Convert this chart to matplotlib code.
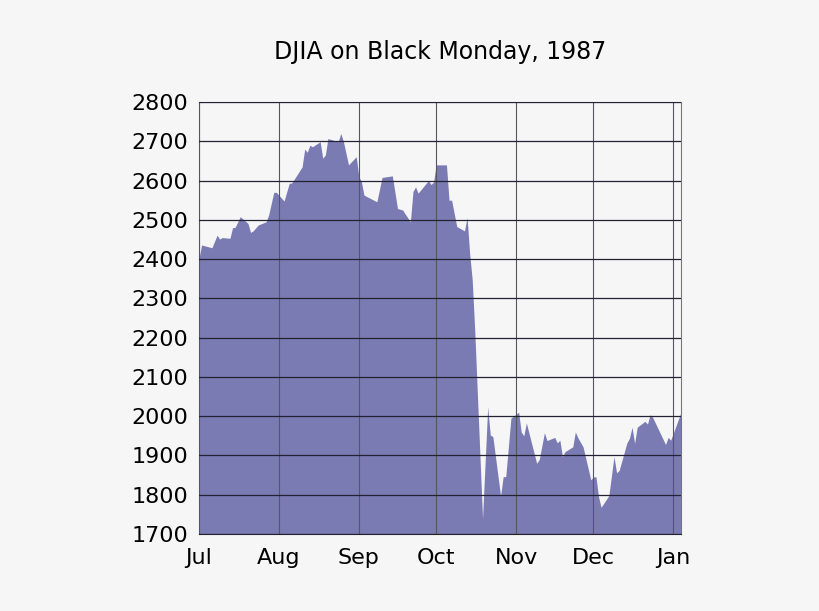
import matplotlib
matplotlib.use('Agg')
import matplotlib.pyplot as plt
import pandas as pd

# DJIA closes, Jul 1987 - Jan 1988
dates = ['1987-07-01', '1987-07-02', '1987-07-06', '1987-07-08', '1987-07-09', '1987-07-10',
         '1987-07-13', '1987-07-14', '1987-07-15', '1987-07-17', '1987-07-20', '1987-07-21',
         '1987-07-22', '1987-07-24', '1987-07-27', '1987-07-28', '1987-07-30', '1987-07-31',
         '1987-08-03', '1987-08-05', '1987-08-06', '1987-08-10', '1987-08-11', '1987-08-12',
         '1987-08-13', '1987-08-14', '1987-08-17', '1987-08-18', '1987-08-19', '1987-08-20',
         '1987-08-21', '1987-08-24', '1987-08-25', '1987-08-26', '1987-08-28', '1987-08-31',
         '1987-09-01', '1987-09-02', '1987-09-03', '1987-09-08', '1987-09-10', '1987-09-14',
         '1987-09-16', '1987-09-18', '1987-09-21', '1987-09-22', '1987-09-23', '1987-09-24',
         '1987-09-28', '1987-09-29', '1987-09-30', '1987-10-01', '1987-10-05', '1987-10-06',
         '1987-10-07', '1987-10-09', '1987-10-12', '1987-10-13', '1987-10-14', '1987-10-15',
         '1987-10-16', '1987-10-19', '1987-10-21', '1987-10-22', '1987-10-23', '1987-10-26',
         '1987-10-27', '1987-10-28', '1987-10-30', '1987-11-02', '1987-11-03', '1987-11-04',
         '1987-11-05', '1987-11-09', '1987-11-10', '1987-11-12', '1987-11-13', '1987-11-16',
         '1987-11-17', '1987-11-18', '1987-11-19', '1987-11-20', '1987-11-23', '1987-11-24',
         '1987-11-25', '1987-11-27', '1987-11-30', '1987-12-01', '1987-12-02', '1987-12-03',
         '1987-12-04', '1987-12-07', '1987-12-08', '1987-12-09', '1987-12-10', '1987-12-11',
         '1987-12-14', '1987-12-15', '1987-12-16', '1987-12-17', '1987-12-18', '1987-12-21',
         '1987-12-22', '1987-12-23', '1987-12-24', '1987-12-29', '1987-12-30', '1987-12-31',
         '1988-01-04']
closes = [2402, 2436, 2429, 2461, 2451, 2455,
          2453, 2480, 2481, 2508, 2491, 2468,
          2472, 2487, 2495, 2512, 2570, 2570,
          2548, 2593, 2594, 2635, 2680, 2672,
          2690, 2686, 2699, 2657, 2665, 2707,
          2705, 2699, 2720, 2700, 2640, 2661,
          2610, 2597, 2563, 2546, 2608, 2612,
          2529, 2525, 2495, 2572, 2584, 2568,
          2600, 2590, 2596, 2640, 2640, 2550,
          2550, 2483, 2472, 2506, 2415, 2347,
          2215, 1740, 2024, 1952, 1948, 1797,
          1846, 1846, 1995, 2010, 1960, 1950,
          1983, 1880, 1890, 1958, 1938, 1946,
          1932, 1939, 1897, 1910, 1922, 1960,
          1945, 1922, 1838, 1845, 1846, 1795,
          1768, 1798, 1848, 1897, 1856, 1862,
          1932, 1944, 1972, 1931, 1972, 1987,
          1980, 2004, 1997, 1928, 1946, 1939,
          2010]

month_ticks = ['1987-07-01', '1987-08-01', '1987-09-01', '1987-10-01',
               '1987-11-01', '1987-12-01', '1988-01-01']
month_labels = ['Jul', 'Aug', 'Sep', 'Oct', 'Nov', 'Dec', 'Jan']

x = pd.to_datetime(dates)

fig = plt.figure(figsize=(8.2, 6.11), dpi=100, facecolor='#f6f6f6')
ax = fig.add_axes([0.2427, 0.126, 0.5878, 0.707])
ax.set_facecolor('#f6f6f6')

ax.fill_between(x, 1700, closes, color='#7b7bb4', linewidth=0, zorder=1)

ax.set_xlim(pd.Timestamp('1987-07-01'), pd.Timestamp('1988-01-04'))
ax.set_ylim(1700, 2800)
ax.set_yticks(range(1700, 2801, 100))
ax.set_xticks(pd.to_datetime(month_ticks))
ax.set_xticklabels(month_labels)

# grid drawn over the area
ax.set_axisbelow(False)
ax.yaxis.grid(True, color='#222233', linewidth=0.9, zorder=3)
ax.xaxis.grid(True, color='#555566', linewidth=0.8, zorder=3)

ax.tick_params(axis='y', length=0, labelsize=16, pad=8)
ax.tick_params(axis='x', length=0, labelsize=16, pad=10)
for s in ax.spines.values():
    s.set_color('#777777')
    s.set_linewidth(0.8)
ax.spines['bottom'].set_color('#222233')

ax.set_title('DJIA on Black Monday, 1987', fontsize=17, pad=31)

fig.savefig('out.png', dpi=100, facecolor=fig.get_facecolor())
